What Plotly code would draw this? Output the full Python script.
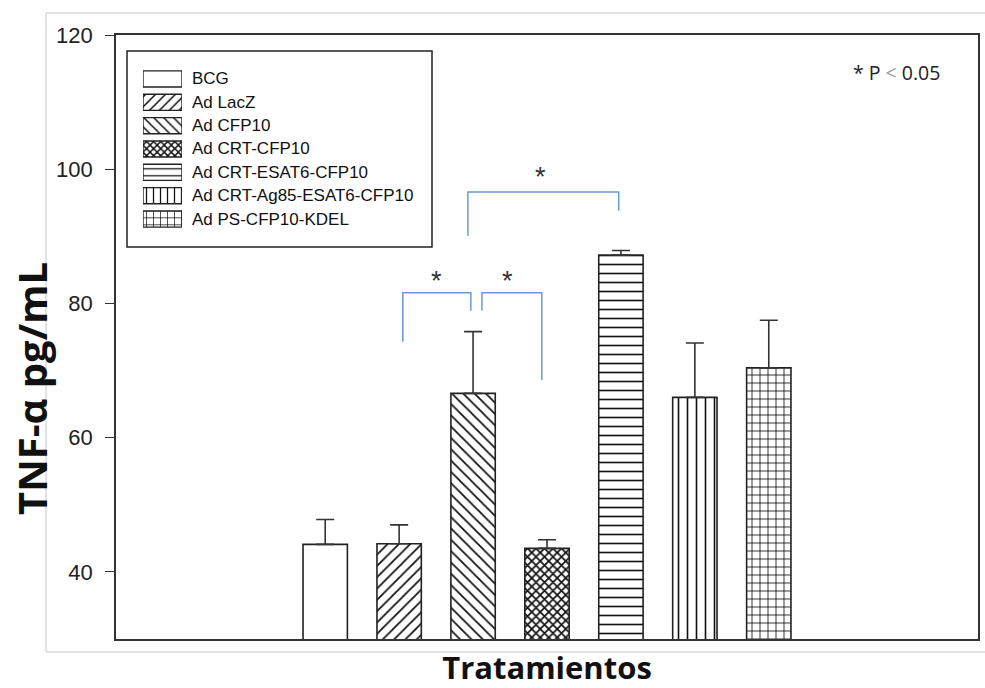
import plotly.graph_objects as go

# ---------------- data ----------------
categories = ["BCG", "Ad LacZ", "Ad CFP10", "Ad CRT-CFP10", "Ad CRT-ESAT6-CFP10",
              "Ad CRT-Ag85-ESAT6-CFP10", "Ad PS-CFP10-KDEL"]
tnf_mean = [44.1, 44.2, 66.6, 43.5, 87.2, 66.0, 70.4]
tnf_err = [3.7, 2.8, 9.2, 1.3, 0.7, 8.1, 7.1]
patterns = ["", "/", "\\", "x", "-", "|", "+"]
y_ticks = [40, 60, 80, 100, 120]

# significance brackets (x in bar-index units, y in pg/mL)
sig_left = [1.05, 2.12, 1.93]
sig_right = [1.97, 2.93, 3.97]
sig_top = [81.6, 81.6, 96.6]
sig_left_low = [74.3, 78.9, 90.1]
sig_right_low = [78.9, 68.6, 93.8]
sig_star_x = [1.51, 2.46, 2.91]
sig_star_y = [83.4, 83.4, 98.8]
sig_label = ["*", "*", "*"]
note_text = "* P <span style='color:#9a9a9a'>&lt;</span> 0.05"
x_title = "Tratamientos"
y_title = "TNF-α pg/mL"

# ---------------- figure ----------------
W, H = 985, 688
PL, PR, PT, PB = 116, 978, 35, 639      # plot box in pixels
PW, PH = PR - PL, PB - PT


def px_x(px):
    return (px - PL) / PW


def px_y(py):
    return (PB - py) / PH


pat_size = [8, 8, 8, 6, 9, 9, 8]
pat_solid = [0.2, 0.22, 0.22, 0.5, 0.18, 0.18, 0.2]

fig = go.Figure()
xs = list(range(len(categories)))

fig.add_trace(go.Bar(
    x=xs, y=tnf_mean, width=0.6, showlegend=False,
    marker=dict(color="white", line=dict(color="#222", width=1.6),
                pattern=dict(shape=patterns, fgcolor="#111", bgcolor="white",
                             size=pat_size, solidity=pat_solid, fillmode="replace")),
    error_y=dict(type="data", array=tnf_err, arrayminus=[0] * len(tnf_err),
                 symmetric=False, color="#333", thickness=1.6, width=9),
    hovertext=categories,
))

# brackets
blue = "#6a9ad6"
for i in range(len(sig_left)):
    fig.add_trace(go.Scatter(
        x=[sig_left[i], sig_left[i], sig_right[i], sig_right[i]],
        y=[sig_left_low[i], sig_top[i], sig_top[i], sig_right_low[i]],
        mode="lines", line=dict(color=blue, width=1.5), showlegend=False,
        hoverinfo="skip"))
    fig.add_annotation(x=sig_star_x[i], y=sig_star_y[i], text=sig_label[i],
                       showarrow=False, yanchor="middle",
                       font=dict(family="Liberation Sans", size=27, color="#333"),
                       xref="x", yref="y")

# legend swatches on an inset axis
fig.add_trace(go.Bar(
    x=[1] * len(categories), y=xs, base=0, orientation="h", width=0.69,
    xaxis="x2", yaxis="y2", showlegend=False, hoverinfo="skip",
    marker=dict(color="white", line=dict(color="#222", width=1.4),
                pattern=dict(shape=patterns, fgcolor="#111", bgcolor="white",
                             size=[7, 7, 7, 5, 7, 7, 7], solidity=pat_solid,
                             fillmode="replace")),
))
for i, name in enumerate(categories):
    fig.add_annotation(x=px_x(190), y=i, xref="paper", yref="y2", text=name,
                       xanchor="left", yanchor="middle", showarrow=False,
                       font=dict(family="Liberation Sans", size=17, color="#111"))

shapes = [
    # legend box
    dict(type="rect", xref="paper", yref="paper", x0=px_x(127), x1=px_x(432),
         y0=px_y(247), y1=px_y(51), line=dict(color="#222", width=1.5),
         fillcolor="rgba(0,0,0,0)", layer="below"),
    # light outer frame of the picture
    dict(type="line", xref="paper", yref="paper", x0=px_x(46), x1=px_x(1000),
         y0=px_y(13), y1=px_y(13), line=dict(color="#e2e2e2", width=2)),
    dict(type="line", xref="paper", yref="paper", x0=px_x(46), x1=px_x(1000),
         y0=px_y(652), y1=px_y(652), line=dict(color="#e2e2e2", width=2)),
    dict(type="line", xref="paper", yref="paper", x0=px_x(46), x1=px_x(46),
         y0=px_y(13), y1=px_y(652), line=dict(color="#e2e2e2", width=2)),
]

fig.add_annotation(x=px_x(896), y=px_y(72), xref="paper", yref="paper", text=note_text,
                   showarrow=False, xanchor="center", yanchor="middle",
                   font=dict(family="Open Sans", size=19.5, color="#222"))

# y-axis title (placed off-centre, as in the original)
fig.add_annotation(x=px_x(31), y=px_y(389), xref="paper", yref="paper",
                   text="<b>" + y_title + "</b>", textangle=-90, showarrow=False,
                   xanchor="center", yanchor="middle", borderpad=0,
                   font=dict(family="Open Sans", size=40, color="#111"))

fig.update_layout(
    width=W, height=H,
    margin=dict(l=PL, r=W - PR, t=PT, b=H - PB, autoexpand=False),
    paper_bgcolor="white", plot_bgcolor="white",
    shapes=shapes,
    bargap=0.4,
    xaxis=dict(range=[-2.83, 8.83], showticklabels=False, ticks="", showgrid=False,
               zeroline=False, showline=True, linecolor="#333", linewidth=1.6, mirror=True,
               title=dict(text="<b>" + x_title + "</b>", standoff=23,
                          font=dict(family="Open Sans", size=31, color="#111"))),
    yaxis=dict(range=[30, 120], tickvals=y_ticks, ticks="outside", ticklen=9,
               tickwidth=1.4, tickcolor="#333", showgrid=False, zeroline=False,
               showline=True, linecolor="#333", linewidth=1.6, mirror=True,
               ticklabelstandoff=8,
               tickfont=dict(family="Liberation Sans", size=22, color="#222")),
    xaxis2=dict(domain=[px_x(143), px_x(182)], range=[0, 1], anchor="y2",
                visible=False, fixedrange=True),
    yaxis2=dict(domain=[px_y(230.7), px_y(67.3)], range=[6.5, -0.5], anchor="x2",
                visible=False, fixedrange=True),
)

# remove the default page margin so the figure fills the 985x688 window exactly
page_fix = ("document.documentElement.style.overflow='hidden';"
            "document.body.style.margin='0';document.body.style.overflow='hidden';")
fig.write_html("out.html", post_script=page_fix, config={"displayModeBar": False})
